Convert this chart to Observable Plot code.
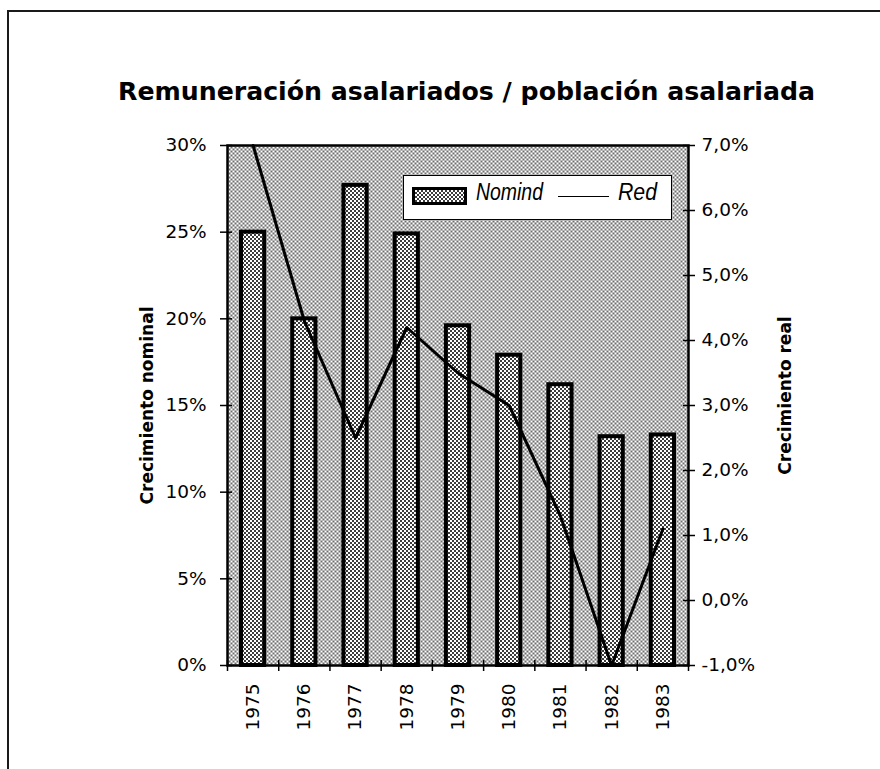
<!DOCTYPE html>
<html>
<head>
<meta charset="utf-8">
<script src="https://cdn.jsdelivr.net/npm/d3@7"></script>
<script src="https://cdn.jsdelivr.net/npm/@observablehq/plot@0.6"></script>
<style>
  html, body { margin: 0; padding: 0; background: #fff; }
  #page { position: relative; width: 880px; height: 769px; overflow: hidden; font-family: "DejaVu Sans", sans-serif; }
  #outer { position: absolute; left: 7px; top: 10px; width: 900px; height: 800px; border-left: 2px solid #1a1a1a; border-top: 2px solid #1a1a1a; }
  #title { position: absolute; left: 118px; top: 80px; font-weight: bold; font-size: 24px; line-height: 24px; white-space: nowrap; transform-origin: 0 0; color: #000; }
  #chart { position: absolute; left: 0; top: 120px; }
  #legend { position: absolute; left: 403px; top: 175px; width: 269px; height: 45px; box-sizing: border-box; background: #fff; border: 1.5px solid #000; }
  #legend .sw { position: absolute; left: 8px; top: 11px; width: 55px; height: 18px; box-sizing: border-box; border: 3px solid #000;
    background: repeating-conic-gradient(#3c3c3c 0% 25%, #ffffff 0% 50%) 0 0 / 4px 4px; }
  #legend .lab { position: absolute; font-family: "Liberation Sans", Arial, sans-serif; font-style: italic; font-size: 23px; line-height: 23px; white-space: nowrap; transform-origin: 0 0; }
  #legend .ln { position: absolute; left: 154px; top: 20px; width: 51px; border-top: 1.5px solid #000; }
</style>
</head>
<body>
<div id="page">
  <div id="outer"></div>
  <div id="title"></div>
  <div id="chart"></div>
  <div id="legend">
    <div class="sw"></div>
    <div class="lab" id="lab1" style="left:72px; top:5px;"></div>
    <div class="ln"></div>
    <div class="lab" id="lab2" style="left:214px; top:5px;"></div>
  </div>
</div>
<script>
// ---- data ----
const titleText = "Remuneración asalariados / población asalariada";
const years = [1975, 1976, 1977, 1978, 1979, 1980, 1981, 1982, 1983];
const nominal = [25.0, 20.0, 27.7, 24.9, 19.6, 17.9, 16.2, 13.2, 13.3];   // Crecimiento nominal (%), left axis
const real = [7.0, 4.3, 2.5, 4.2, 3.5, 3.0, 1.3, -1.0, 1.1];              // Crecimiento real (%), right axis
const leftTicks = [0, 5, 10, 15, 20, 25, 30];
const rightTicks = [-1, 0, 1, 2, 3, 4, 5, 6, 7];
const seriesNames = ["Nomind", "Red"];
const axisTitles = ["Crecimiento nominal", "Crecimiento real"];

const leftDomain = [0, 30];
const rightDomain = [-1, 7];
const realToLeft = v => (v - rightDomain[0]) * (leftDomain[1] - leftDomain[0]) / (rightDomain[1] - rightDomain[0]) + leftDomain[0];
const leftToReal = v => (v - leftDomain[0]) * (rightDomain[1] - rightDomain[0]) / (leftDomain[1] - leftDomain[0]) + rightDomain[0];

const data = years.map((year, i) => ({year, nominal: nominal[i], real: real[i]}));
const bounds = d3.range(years[0] - 0.5, years[years.length - 1] + 1, 1);

// ---- layout ----
const W = 880, H = 649, mt = 25, mb = 104, ml = 227, mr = 192;
const fw = W - ml - mr, fh = H - mt - mb;

const defs = () => {
  const d = document.createElementNS("http://www.w3.org/2000/svg", "defs");
  d.innerHTML =
    '<pattern id="bgpat" width="4" height="4" patternUnits="userSpaceOnUse">' +
      '<rect width="4" height="4" fill="#ffffff"/>' +
      '<rect width="2" height="2" fill="#6e6e6e"/><rect x="2" y="2" width="2" height="2" fill="#6e6e6e"/>' +
    '</pattern>' +
    '<pattern id="barpat" width="4" height="4" patternUnits="userSpaceOnUse">' +
      '<rect width="4" height="4" fill="#ffffff"/>' +
      '<rect width="2" height="2" fill="#3c3c3c"/><rect x="2" y="2" width="2" height="2" fill="#3c3c3c"/>' +
    '</pattern>';
  return d;
};

const fmtReal = v => {
  const r = Math.round(leftToReal(v) * 10) / 10;
  return r.toFixed(1).replace(".", ",") + "%";
};

const chart = Plot.plot({
  width: W, height: H,
  marginTop: mt, marginBottom: mb, marginLeft: ml, marginRight: mr,
  style: {fontFamily: "DejaVu Sans, sans-serif", fontSize: "18.5px", color: "#000", background: "transparent", overflow: "visible"},
  x: {type: "linear", domain: [bounds[0], bounds[bounds.length - 1]], axis: null},
  y: {domain: leftDomain, axis: null},
  marks: [
    defs,
    Plot.frame({fill: "url(#bgpat)"}),
    Plot.rectY(data, {x1: d => d.year - 0.5, x2: d => d.year + 0.5, y: "nominal", insetLeft: 14, insetRight: 14,
      fill: "url(#barpat)", stroke: "#000", strokeWidth: 4}),
    Plot.line(data, {x: "year", y: d => realToLeft(d.real), stroke: "#000", strokeWidth: 3}),
    Plot.frame({stroke: "#000", strokeWidth: 2.5}),
    Plot.tickY(leftTicks, {y: d => d, insetLeft: -7, insetRight: fw - 5, stroke: "#000", strokeWidth: 1.5}),
    Plot.tickY(rightTicks.map(realToLeft), {y: d => d, insetLeft: fw - 5, insetRight: -7, stroke: "#000", strokeWidth: 1.5}),
    Plot.tickX(bounds, {x: d => d, insetTop: fh - 5, insetBottom: -6, stroke: "#000", strokeWidth: 1.5}),
    Plot.axisY(leftTicks, {anchor: "left", tickSize: 0, tickPadding: 21, tickFormat: d => d + "%", label: null}),
    Plot.axisY(rightTicks.map(realToLeft), {anchor: "right", tickSize: 0, tickPadding: 13, tickFormat: fmtReal, label: null}),
    Plot.axisX(years, {anchor: "bottom", tickSize: 0, tickPadding: 18, tickRotate: -90, tickFormat: d => String(d), label: null}),
    Plot.text([axisTitles[0]], {text: d => d, frameAnchor: "left", textAnchor: "middle", lineAnchor: "middle", dx: -80, rotate: -90, fontWeight: "bold", fontSize: 17}),
    Plot.text([axisTitles[1]], {text: d => d, frameAnchor: "right", textAnchor: "middle", lineAnchor: "middle", dx: 97, dy: -10, rotate: -90, fontWeight: "bold", fontSize: 17})
  ]
});
document.getElementById("chart").appendChild(chart);

// ---- title & legend text ----
function fitWidth(el, w) {
  const r = el.getBoundingClientRect().width;
  if (r > 0) el.style.transform = `scaleX(${w / r})`;
}
const t = document.getElementById("title");
t.textContent = titleText;
fitWidth(t, 697);
const l1 = document.getElementById("lab1"), l2 = document.getElementById("lab2");
l1.textContent = seriesNames[0];
l2.textContent = seriesNames[1];
fitWidth(l1, 67);
fitWidth(l2, 39);
</script>
</body>
</html>
